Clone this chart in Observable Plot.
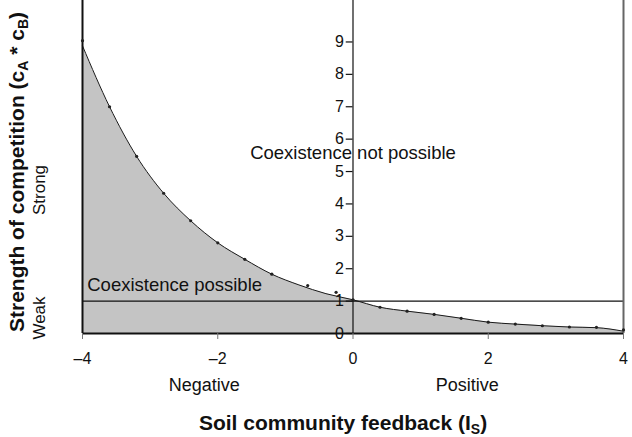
<!DOCTYPE html>
<html>
<head>
<meta charset="utf-8">
<script src="https://cdn.jsdelivr.net/npm/d3@7"></script>
<script src="https://cdn.jsdelivr.net/npm/@observablehq/plot@0.6"></script>
<style>
  html, body { margin: 0; padding: 0; background: #fff; }
  svg { display: block; }
</style>
</head>
<body>
<div id="chart"></div>
<script>
// Model curve
const curveX = [-4, -3.6, -3.2, -2.8, -2.4, -2, -1.6, -1.2, -0.8, -0.4, 0, 0.4, 0.8, 1.2, 1.6, 2, 2.4, 2.8, 3.2, 3.6, 4];
const curveY = [8.88, 7.0, 5.47, 4.33, 3.48, 2.80, 2.29, 1.83, 1.50, 1.23, 1.04, 0.81, 0.69, 0.59, 0.47, 0.35, 0.29, 0.24, 0.20, 0.18, 0.07];
// Simulated points
const pointX = [-4, -3.6, -3.2, -2.8, -2.4, -2, -1.6, -1.2, -0.67, -0.25, 0, 0.4, 0.8, 1.2, 1.6, 2, 2.4, 2.8, 3.2, 3.6, 4];
const pointY = [9.04, 7.0, 5.47, 4.33, 3.48, 2.80, 2.29, 1.83, 1.48, 1.27, 1.04, 0.81, 0.69, 0.59, 0.47, 0.35, 0.29, 0.24, 0.20, 0.19, 0.11];
// Ticks
const xTicks = [-4, -2, 0, 2, 4];
const yTicks = [0, 1, 2, 3, 4, 5, 6, 7, 8, 9];
const threshold = 1;

const curve = curveX.map((x, i) => ({x, y: curveY[i]}));
const points = pointX.map((x, i) => ({x, y: pointY[i]}));

const font = "Liberation Sans, Arial, Helvetica, sans-serif";

const chart = Plot.plot({
  width: 632,
  height: 437,
  marginTop: 0,
  marginBottom: 104,
  marginLeft: 82,
  marginRight: 9,
  style: {fontFamily: font, background: "#fff"},
  x: {domain: [-4, 4]},
  y: {domain: [0, 10.28], axis: null},
  marks: [
    Plot.areaY(curve, {x: "x", y: "y", fill: "#c4c4c4", curve: "monotone-x"}),
    Plot.line(curve, {x: "x", y: "y", stroke: "#1a1a1a", strokeWidth: 1, curve: "monotone-x"}),
    Plot.ruleY([threshold], {stroke: "#111", strokeWidth: 1.2}),
    Plot.ruleX([0], {stroke: "#111", strokeWidth: 1.2}),
    Plot.ruleX([-4], {stroke: "#111", strokeWidth: 2}),
    Plot.ruleX([4], {stroke: "#666", strokeWidth: 2}),
    Plot.dot(points, {x: "x", y: "y", r: 1.6, fill: "#222", stroke: "none"}),
    // y ticks on the central axis
    Plot.ruleY(yTicks, {x1: -0.1, x2: 0, stroke: "#111", strokeWidth: 1.2}),
    Plot.text(yTicks, {x: 0, y: d => d, text: d => String(d), textAnchor: "end", dx: -9, fontSize: 16, fill: "#111"}),
    Plot.ruleY([0], {stroke: "#111", strokeWidth: 2.2}),
    Plot.axisX({ticks: xTicks, tickSize: 6, tickPadding: 13, fontSize: 16, stroke: "#777", fill: "#111", label: null,
      tickFormat: d => d < 0 ? "\u2013" + Math.abs(d) : String(d)}),
    Plot.text(["Coexistence not possible"], {x: 0, y: 5.56, text: d => d, textAnchor: "middle", fontSize: 18.5, fill: "#111"}),
    Plot.text(["Coexistence possible"], {x: -3.93, y: 1.48, text: d => d, textAnchor: "start", fontSize: 18.5, fill: "#111"}),
    Plot.text(["Negative"], {x: -2.2, y: -1.6, text: d => d, textAnchor: "middle", fontSize: 18, fill: "#111"}),
    Plot.text(["Positive"], {x: 1.69, y: -1.6, text: d => d, textAnchor: "middle", fontSize: 18, fill: "#111"})
  ]
});

const svg = d3.select(chart);
// y-axis side labels
svg.append("text").attr("transform", "translate(45,190) rotate(-90)")
  .attr("text-anchor", "middle").attr("font-size", 17).attr("font-family", font).attr("fill", "#111").text("Strong");
svg.append("text").attr("transform", "translate(45,318) rotate(-90)")
  .attr("text-anchor", "middle").attr("font-size", 17).attr("font-family", font).attr("fill", "#111").text("Weak");

// y-axis title with subscripts
const yt = svg.append("text").attr("transform", "translate(24,172) rotate(-90)")
  .attr("text-anchor", "middle").attr("font-size", 21).attr("font-weight", "bold")
  .attr("font-family", font).attr("fill", "#111");
yt.append("tspan").text("Strength of competition (c");
yt.append("tspan").attr("font-size", 14).attr("dy", 4).text("A");
yt.append("tspan").attr("dy", -4).text(" * c");
yt.append("tspan").attr("font-size", 14).attr("dy", 4).text("B");
yt.append("tspan").attr("dy", -4).text(")");

// x-axis title with subscript
const xt = svg.append("text").attr("x", 343).attr("y", 430)
  .attr("text-anchor", "middle").attr("font-size", 21).attr("font-weight", "bold")
  .attr("font-family", font).attr("fill", "#111");
xt.append("tspan").text("Soil community feedback (I");
xt.append("tspan").attr("font-size", 14).attr("dy", 4).text("S");
xt.append("tspan").attr("dy", -4).text(")");

document.getElementById("chart").appendChild(chart);
</script>
</body>
</html>
